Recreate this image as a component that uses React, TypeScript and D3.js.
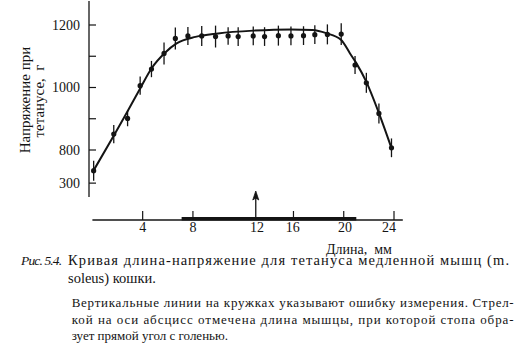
import React from 'react';
import * as d3 from 'd3';

// measured points (length, mm / tetanic tension, g) with error half-widths
const lengthMm = [0.1, 1.7, 2.8, 3.8, 4.7, 5.7, 6.6, 7.6, 8.7, 9.8, 10.8, 11.6, 12.8, 13.7, 14.8, 15.8, 16.8, 17.7, 18.7, 19.8, 20.9, 21.8, 22.8, 23.8];
const tension = [734, 851, 901, 1006, 1059, 1109, 1157, 1165, 1165, 1163, 1165, 1163, 1165, 1163, 1166, 1165, 1166, 1169, 1170, 1171, 1072, 1015, 917, 807];
const tensionErr = [32, 29, 25, 29, 26, 35, 35, 29, 32, 35, 28, 30, 30, 30, 32, 30, 30, 30, 32, 35, 29, 32, 32, 30];

// fitted curve
const fitMm = [0, 1.8, 2.7, 3.8, 4.7, 5.8, 6.7, 8.2, 10, 12.8, 15.8, 17.5, 18.6, 19.8, 20.5, 21.0, 21.8, 22.8, 23.8];
const fitTension = [728, 853, 917, 997, 1061, 1112, 1141, 1162, 1173, 1182, 1186, 1184, 1174, 1152, 1109, 1078, 1018, 918, 806];

// y axis: broken scale, last label "300" sits just below 800
const yTickValues = [1200, 1000, 800, 694];
const yTickLabels = ['1200', '1000', '800', '300'];
const yMinorTicks = [1100, 900];

const xTickValues = [4, 8, 16, 20, 24];
const xLabelValues = [4, 8, 13.1, 15.95, 20.1, 23.6];
const xLabelText = ['4', '8', '12', '16', '20', '24'];
const arrowMm = 13;
const muscleRange = [7.1, 21];

const captionLines = [
  'Кривая длина-напряжение для тетануса медленной мышц (m.',
  'soleus) кошки.',
];
const noteLines = [
  'Вертикальные линии на кружках указывают ошибку измерения. Стрел-',
  'кой на оси абсцисс отмечена длина мышцы, при которой стопа обра-',
  'зует прямой угол с голенью.',
];

const FONT = '"Liberation Serif", "DejaVu Serif", serif';
const INK = '#141414';

export default function App() {
  const xScale = d3.scaleLinear().domain([0, 24]).range([92.4, 394]);
  const yScale = d3.scaleLinear().domain([800, 1200]).range([150, 25]);

  const axisX = 89;
  const axisTop = 1;
  const axisBottom = 197;
  const xAxisY = 220;

  const line = d3
    .line<number>()
    .x((_, i) => xScale(fitMm[i]))
    .y((d) => yScale(d))
    .curve(d3.curveMonotoneX);

  return (
    <svg
      width={521}
      height={364}
      style={{ position: 'absolute', left: 0, top: 0, background: '#fff' }}
      fontFamily={FONT}
    >
      {/* y axis */}
      <line x1={axisX} x2={axisX} y1={axisTop} y2={axisBottom} stroke={INK} strokeWidth={1.3} />
      {yTickValues.map((v, i) => (
        <g key={'yt' + i}>
          <line x1={axisX} x2={axisX + 7} y1={yScale(v)} y2={yScale(v)} stroke={INK} strokeWidth={1.2} />
          <text x={80} y={yScale(v)} dy="0.35em" textAnchor="end" fontSize={14} fill={INK}>
            {yTickLabels[i]}
          </text>
        </g>
      ))}
      {yMinorTicks.map((v) => (
        <line key={'ym' + v} x1={axisX} x2={axisX + 7} y1={yScale(v)} y2={yScale(v)} stroke={INK} strokeWidth={1.2} />
      ))}
      <text transform="translate(30,100) rotate(-90)" textAnchor="middle" fontSize={15} fill={INK}>
        Напряжение{'\u00a0'}при
      </text>
      <text transform="translate(44,101) rotate(-90)" textAnchor="middle" fontSize={15} fill={INK}>
        тетанусе,{'\u00a0\u00a0'}г
      </text>

      {/* fitted curve */}
      <path d={line(fitTension) || ''} fill="none" stroke={INK} strokeWidth={2} />

      {/* error bars and points */}
      {tension.map((v, i) => (
        <g key={'p' + i}>
          <line
            x1={xScale(lengthMm[i])}
            x2={xScale(lengthMm[i])}
            y1={yScale(v + tensionErr[i])}
            y2={yScale(v - tensionErr[i])}
            stroke={INK}
            strokeWidth={1.3}
          />
          <circle cx={xScale(lengthMm[i])} cy={yScale(v)} r={2.6} fill={INK} />
        </g>
      ))}

      {/* x axis */}
      <line x1={xScale(0)} x2={xScale(24.7)} y1={xAxisY} y2={xAxisY} stroke={INK} strokeWidth={1.3} />
      <line
        x1={xScale(muscleRange[0])}
        x2={xScale(muscleRange[1])}
        y1={xAxisY - 1.2}
        y2={xAxisY - 1.2}
        stroke={INK}
        strokeWidth={3.6}
      />
      {xTickValues.map((v) => (
        <line key={'xt' + v} x1={xScale(v)} x2={xScale(v)} y1={xAxisY} y2={xAxisY - 9} stroke={INK} strokeWidth={1.2} />
      ))}
      {xLabelValues.map((v, i) => (
        <text key={'xl' + i} x={xScale(v)} y={231.5} textAnchor="middle" fontSize={14} fill={INK}>
          {xLabelText[i]}
        </text>
      ))}
      {/* arrow: leg perpendicular to shin */}
      <line x1={xScale(arrowMm)} x2={xScale(arrowMm)} y1={xAxisY} y2={194} stroke={INK} strokeWidth={1.3} />
      <path
        d={`M${xScale(arrowMm)},191 l-3,9 l3,-2 l3,2 z`}
        fill={INK}
        stroke={INK}
        strokeWidth={0.8}
      />
      <text x={359} y={253.5} textAnchor="middle" fontSize={14} fill={INK}>
        Длина,{'\u00a0\u00a0'}мм
      </text>

      {/* caption */}
      <text x={21} y={265} fontSize={13.5} fontStyle="italic" fill={INK} textLength={41} lengthAdjust="spacing">
        Рис. 5.4.
      </text>
      <text x={68} y={265} fontSize={14.5} fill={INK} textLength={441} lengthAdjust="spacing">
        {captionLines[0]}
      </text>
      <text x={68} y={283} fontSize={14.5} fill={INK}>
        {captionLines[1]}
      </text>

      {noteLines.map((t, i) => (
        <text
          key={'n' + i}
          x={71.7}
          y={307 + i * 16.5}
          fontSize={13}
          fill={INK}
          textLength={i < noteLines.length - 1 ? 442 : undefined}
          lengthAdjust="spacing"
        >
          {t}
        </text>
      ))}
    </svg>
  );
}
